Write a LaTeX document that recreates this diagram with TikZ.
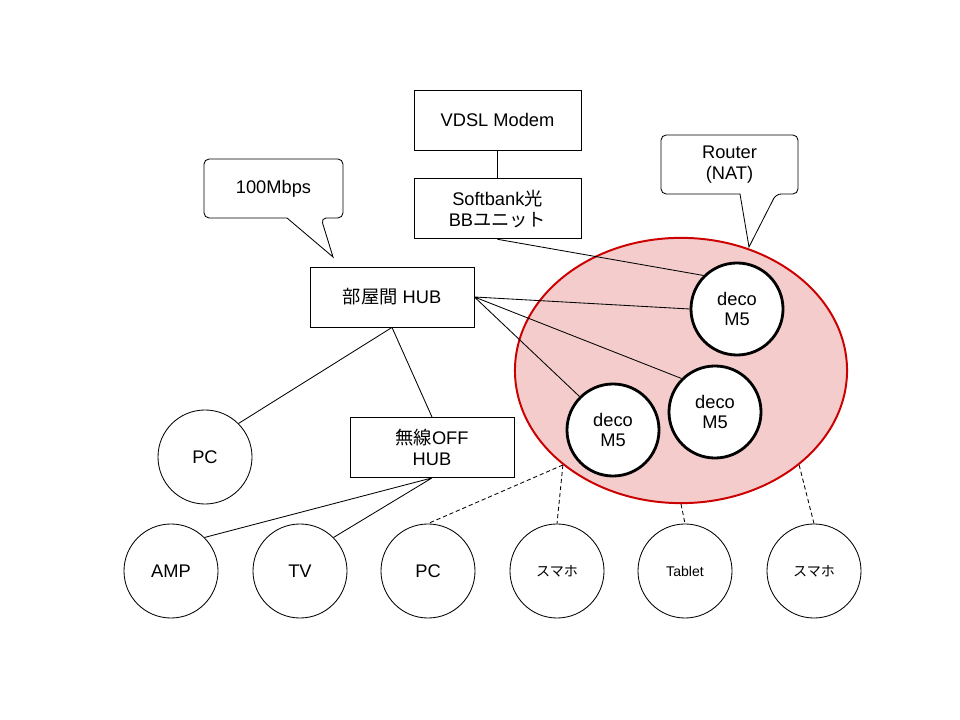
\documentclass[tikz,border=0pt]{standalone}
\usepackage{fontspec}
\setmainfont{Liberation Sans}
\newfontfamily\jp{Noto Sans CJK JP}
\usetikzlibrary{shapes.geometric,positioning}
\definecolor{meshfill}{HTML}{F4CCCC}
\definecolor{meshline}{HTML}{CC0000}

\begin{document}
\begin{tikzpicture}[x=0.025cm,y=-0.025cm,line width=0.6pt,font=\fontsize{13}{14.7}\selectfont,
    box/.style={draw,minimum width=4.1cm,minimum height=1.5cm,inner sep=0,align=center},
    dev/.style={draw,circle,minimum size=2.35cm,inner sep=0,align=center},
    deco/.style={draw,circle,fill=white,line width=2pt,minimum size=2.3cm,inner sep=0,align=center},
    small/.style={font=\fontsize{10}{12}\selectfont},
    callout/.style={minimum height=1.475cm,inner sep=0,outer sep=0,align=center},
    balloon/.style={rounded corners=0.13cm},
    wifi/.style={dash pattern=on 3pt off 2pt}]
    \useasboundingbox (0,0) rectangle (960,720);

    \node[box,minimum width=4.175cm] (vdsl) at (497.5,120) {VDSL Modem};
    \node[box,minimum width=4.175cm,below=0.7cm of vdsl] (bb) {Softbank{\jp 光}\\BB{\jp ユニット}};
    \node[box] (hub) at (392,297) {{\jp 部屋間} HUB};
    \node[box] (whub) at (432,447.5) {{\jp 無線}OFF\\HUB};
    \node[dev] (pc) at (205,457) {PC};

    \node[ellipse,draw=meshline,fill=meshfill,line width=1.4pt,minimum width=8.3cm,minimum height=6.63cm,inner sep=0] (mesh) at (681,370.5) {};
    \node[deco] (decoa) at (737,309) {deco\\M5};
    \node[deco] (decob) at (715,412) {deco\\M5};
    \node[deco] (decoc) at (613,430) {deco\\M5};

    \node[dev] (amp) at (171,571) {AMP};
    \node[dev] (tv) at (300,571) {TV};
    \node[dev] (pcb) at (428,571) {PC};
    \node[dev,small] (phonea) at (557,571) {\jp スマホ};
    \node[dev,small] (tab) at (685,571) {Tablet};
    \node[dev,small] (phoneb) at (814,571) {\jp スマホ};

    \node[callout,minimum width=3.475cm] (mbps) at (273.5,188.5) {100Mbps};
    \node[callout,minimum width=3.425cm] (nat) at (729.5,164.5) {Router\\(NAT)};
    \coordinate (mbpstip) at (333,257);
    \coordinate (nattip) at (749,247);

    \draw[balloon] (287,218) [rounded corners=0.13cm] -- (mbps.south west) -- (mbps.north west)
      -- (mbps.north east) -- (mbps.south east) -- (321,218) [sharp corners] -- (mbpstip) -- cycle;
    \draw[balloon] (740,194) [rounded corners=0.13cm] -- (nat.south west) -- (nat.north west)
      -- (nat.north east) -- (nat.south east) -- (776,194) [sharp corners] -- (nattip) -- cycle;

    \draw (vdsl) -- (bb)
      (bb.south) -- (decoa.north west)
      (hub.east) -- (decoa.west)
      (hub.east) -- (decob.north west)
      (hub.east) -- (decoc.north west)
      (hub.south) -- (pc.45)
      (hub.south) -- (whub.north)
      (whub.south) -- (amp.45)
      (whub.south) -- (tv.45);

    \draw[wifi] (mesh.south west) -- (pcb.north)
      (mesh.south west) -- (phonea.north)
      (mesh.south) -- (tab.north)
      (mesh.south east) -- (phoneb.north);
  \end{tikzpicture}
\end{document}
